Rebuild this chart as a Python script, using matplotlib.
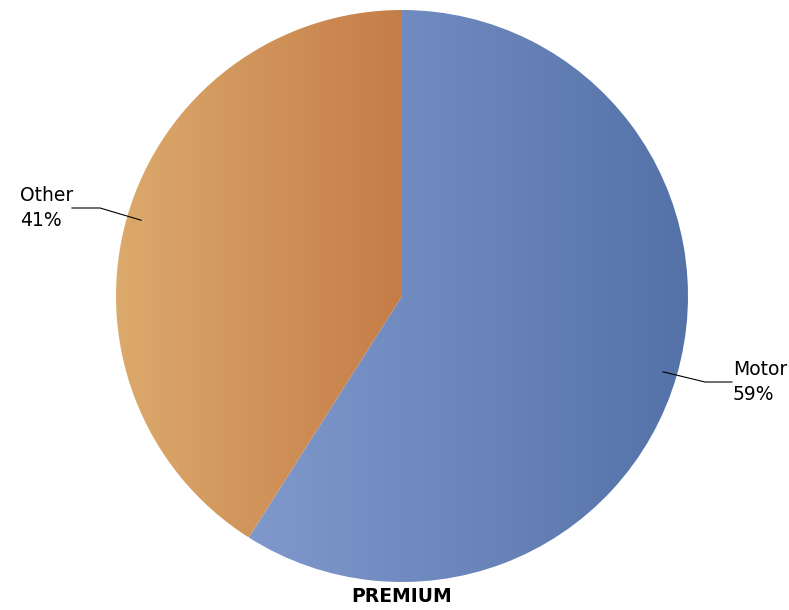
import numpy as np
import matplotlib
matplotlib.use("Agg")
import matplotlib.pyplot as plt
from matplotlib.colors import LinearSegmentedColormap

# Datos del grafico
labels = ["Motor", "Other"]
shares = [59, 41]
grad_colors = [("#8099CD", "#5472A8"), ("#DCAA6C", "#C57D47")]
caption = "PREMIUM"

fig = plt.figure(figsize=(7.89, 6.10), dpi=100)
ax = fig.add_axes([0, 0, 1, 1])

cx, cy, r = 402, 314, 286
wedges, _ = ax.pie(shares, startangle=90, counterclock=False,
                   center=(cx, cy), radius=r, frame=True)

# Degradado horizontal dentro de cada sector
grad = np.linspace(0, 1, 256).reshape(1, -1)
for w, (c0, c1) in zip(wedges, grad_colors):
    w.set_facecolor("none")
    w.set_edgecolor("none")
    bb = w.get_path().get_extents(w.get_transform() - ax.transData)
    cmap = LinearSegmentedColormap.from_list("g", [c0, c1])
    im = ax.imshow(grad, cmap=cmap, aspect="auto",
                   extent=[bb.x0, bb.x1, bb.y0, bb.y1], zorder=1)
    im.set_clip_path(w)

# Etiquetas con lineas guia
text_side = {"Motor": (1, 733, 228), "Other": (-1, 20, 402)}
for w, lab, val in zip(wedges, labels, shares):
    ang = np.deg2rad((w.theta1 + w.theta2) / 2)
    x0 = cx + 0.95 * r * np.cos(ang)
    y0 = cy + 0.95 * r * np.sin(ang)
    side, tx, ty = text_side[lab]
    if side > 0:
        xs = [x0, tx - 28, tx - 1]
    else:
        xs = [x0, tx + 80, tx + 52]
    ax.plot(xs, [y0, ty, ty], color="black", lw=0.8, zorder=3)
    ax.text(tx, ty, f"{lab}\n{val}%", ha="left", va="center",
            fontsize=13.5, linespacing=1.35, zorder=4)

ax.text(cx, 14, caption, ha="center", va="center", fontsize=13.5,
        fontweight="bold")

ax.set_xlim(0, 789)
ax.set_ylim(0, 610)
ax.set_aspect("auto")
ax.axis("off")
fig.savefig("out.png", dpi=100)
